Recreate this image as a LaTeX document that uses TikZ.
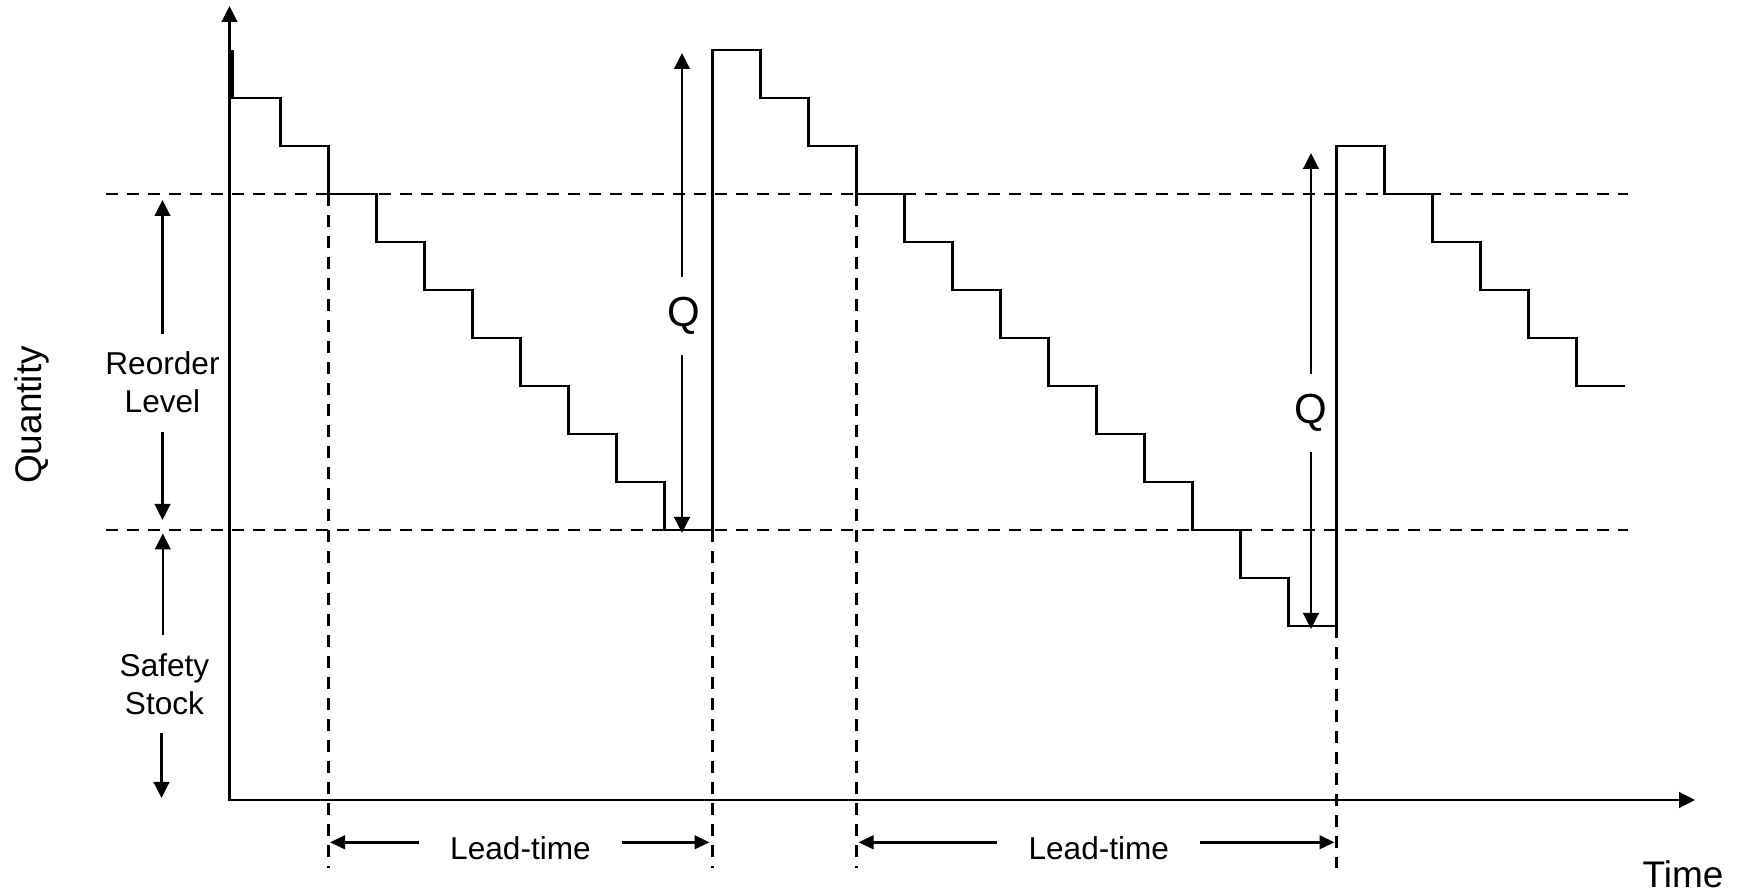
\documentclass[tikz,border=0pt]{standalone}
\usepackage{fontspec}
\setmainfont{Liberation Sans}
\usetikzlibrary{arrows.meta}
\begin{document}
\begin{tikzpicture}[x=0.5pt,y=-0.5pt,
  thick line/.style={line width=1.25pt},
  dashedline/.style={line width=1.25pt, dash pattern=on 6pt off 4.5pt},
  arr/.style={line width=1.25pt,-{Triangle[length=8pt,width=7.8pt]}},
  ltarr/.style={line width=1.25pt,-{Triangle[length=7.5pt,width=6.8pt]}},
  axarr/.style={line width=1.25pt,{Triangle[length=8pt,width=7.8pt]}-{Triangle[length=8pt,width=7.8pt]}},
  lbl/.style={font=\fontsize{15.8}{19}\selectfont, align=center, inner xsep=0pt, inner ysep=9pt},
  ltlbl/.style={font=\fontsize{15.8}{19}\selectfont, inner xsep=15.5pt, inner ysep=0pt},
  qlbl/.style={font=\fontsize{21}{25}\selectfont, inner xsep=0pt, inner ysep=10pt},
  axlbl/.style={font=\fontsize{18.5}{22}\selectfont, inner sep=0pt},
]
\useasboundingbox (0,0) rectangle (1737,892);

% dashed reference lines
\draw[dashedline] (106,194) -- (1628,194);
\draw[dashedline] (106,530) -- (1628,530);
\draw[dashedline] (328.5,194) -- (328.5,868);
\draw[dashedline] (712.5,530) -- (712.5,868);
\draw[dashedline] (856.5,194) -- (856.5,868);
\draw[dashedline] (1336.5,626) -- (1336.5,868);

% axes
\coordinate (O) at (229.5,800);
\coordinate (yT) at (229.5,6);
\coordinate (xT) at (1695,800);
\draw[axarr] (yT) -- (O) -- (xT);

% stock curve
\draw[thick line] (232.5,50) |- (280.5,98) |- (328.5,146) |- (376.5,194) |- (424.5,242) |- (472.5,290) |- (520.5,338) |- (568.5,386) |- (616.5,434) |- (664.5,482) |- (712.5,530)
  -- (712.5,50) -- (760.5,50) |- (808.5,98) |- (856.5,146) |- (904.5,194) |- (952.5,242) |- (1000.5,290) |- (1048.5,338) |- (1096.5,386) |- (1144.5,434) |- (1192.5,482) |- (1240.5,530) |- (1288.5,578) |- (1336.5,626)
  -- (1336.5,146) -- (1384.5,146) |- (1432.5,194) |- (1480.5,242) |- (1528.5,290) |- (1576.5,338) |- (1625,386);

% Reorder level
\node[lbl] (rl) at (162.5,382.7) {Reorder\\Level};
\coordinate (rlT) at (162.5,200);
\coordinate (rlB) at (162.5,520);
\draw[arr] (rl.north) -- (rlT);
\draw[arr] (rl.south) -- (rlB);

% Safety stock
\node[lbl] (ss) at (164.5,684.3) {Safety\\Stock};
\coordinate (ssT) at (162.8,533.5);
\coordinate (ssB) at (161.5,798);
\draw[arr] (ss.north -| ssT) -- (ssT);
\draw[arr] (ss.south -| ssB) -- (ssB);

% Q arrows
\node[qlbl, anchor=base] (q1) at (683.5,326.7) {Q};
\coordinate (q1T) at (682,53);
\coordinate (q1B) at (682,533);
\draw[arr] (q1.north -| q1T) -- (q1T);
\draw[arr] (q1.south -| q1B) -- (q1B);

\node[qlbl, anchor=base] (q2) at (1311.3,423.3) {Q};
\coordinate (q2T) at (1311,153);
\coordinate (q2B) at (1311,629);
\draw[arr] (q2.north -| q2T) -- (q2T);
\draw[arr] (q2.south -| q2B) -- (q2B);

% Lead-times
\node[ltlbl, anchor=base] (lt1) at (520.5,860) {Lead-time};
\coordinate (l1L) at (330,842.3);
\coordinate (l1R) at (709.5,842.3);
\draw[ltarr] (lt1.west |- l1L) -- (l1L);
\draw[ltarr] (lt1.east |- l1R) -- (l1R);

\node[ltlbl, anchor=base] (lt2) at (1098.8,860) {Lead-time};
\coordinate (l2L) at (858.5,842.3);
\coordinate (l2R) at (1334.5,842.3);
\draw[ltarr] (lt2.west |- l2L) -- (l2L);
\draw[ltarr] (lt2.east |- l2R) -- (l2R);

% axis labels
\node[axlbl, anchor=base] (tm) at (1683,888) {Time};
\node[axlbl, anchor=base, rotate=90] (qt) at (41.7,415) {Quantity};
\end{tikzpicture}
\end{document}
